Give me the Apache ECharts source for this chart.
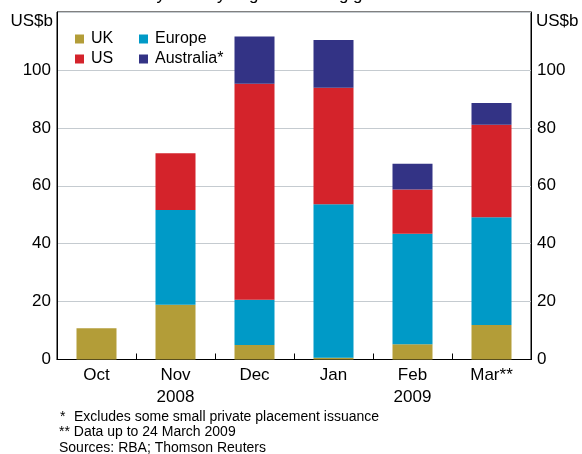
<!DOCTYPE html>
<html>
<head>
<meta charset="utf-8">
<script src="https://cdn.jsdelivr.net/npm/echarts@6/dist/echarts.min.js"></script>
<style>
  html, body { margin: 0; padding: 0; background: #fff; }
  #chart { width: 582px; height: 454px; }
</style>
</head>
<body>
<div id="chart"></div>
<script>
// Government-guaranteed bond issuance, US$ billion, by guaranteeing government
const categories = ['Oct', 'Nov\n2008', 'Dec', 'Jan', 'Feb\n2009', 'Mar**'];
const ukValues        = [10.8, 18.9, 5.0, 0.6, 5.3, 11.9];
const europeValues    = [0, 32.7, 15.6, 53.0, 38.1, 37.2];
const usValues        = [0, 19.6, 74.6, 40.2, 15.3, 32.0];
const australiaValues = [0, 0, 16.3, 16.5, 8.9, 7.5];
const yTicks = [0, 20, 40, 60, 80, 100, 120];

const FONT = 'Arial, "Liberation Sans", sans-serif';
const COLORS = { uk: '#b39d38', europe: '#009ac7', us: '#d4232b', australia: '#333385' };

const chart = echarts.init(document.getElementById('chart'), null, { renderer: 'canvas' });

function yAxis(position, showSplit, align) {
  return {
    type: 'value',
    position: position,
    min: yTicks[0],
    max: yTicks[yTicks.length - 1],
    interval: yTicks[1] - yTicks[0],
    axisLine: { show: true, lineStyle: { color: '#000', width: 1 } },
    axisTick: { show: false },
    splitLine: { show: showSplit, lineStyle: { color: '#c5cbd0', width: 1 } },
    axisLabel: {
      margin: 6,
      fontSize: 17,
      color: '#000',
      fontFamily: FONT,
      align: align,
      formatter: v => (v === yTicks[yTicks.length - 1] ? '' : String(v))
    }
  };
}

function stackSeries(name, data, color) {
  return {
    name: name,
    type: 'bar',
    stack: 'total',
    barWidth: 40,
    data: data,
    itemStyle: { color: color },
    emphasis: { disabled: true },
    animation: false
  };
}

const legendText = { fontSize: 16, color: '#000', fontFamily: FONT, lineHeight: 16, padding: [0, 0, 0, 2] };

chart.setOption({
  animation: false,
  grid: {
    left: 57, right: 51, top: 12, bottom: 94.5,
    show: true, borderColor: '#000', borderWidth: 1, backgroundColor: 'transparent'
  },
  legend: [
    {
      data: ['UK', 'US'], orient: 'vertical', left: 70, top: 26,
      itemWidth: 9, itemHeight: 9, itemGap: 4, icon: 'rect',
      textStyle: legendText, selectedMode: false
    },
    {
      data: ['Europe', 'Australia*'], orient: 'vertical', left: 134, top: 26,
      itemWidth: 9, itemHeight: 9, itemGap: 4, icon: 'rect',
      textStyle: legendText, selectedMode: false
    }
  ],
  xAxis: [
    {
      type: 'category',
      data: categories,
      position: 'bottom',
      axisLine: { show: true, lineStyle: { color: '#000', width: 1 } },
      axisTick: { show: true, inside: true, length: 6, lineStyle: { color: '#000' } },
      splitLine: { show: false },
      axisLabel: {
        interval: 0, margin: 5, fontSize: 17, lineHeight: 22,
        color: '#000', fontFamily: FONT
      }
    },
    {
      // year boundary marker between Dec 2008 and Jan 2009
      type: 'category',
      data: categories,
      position: 'bottom',
      axisLine: { show: false },
      axisTick: {
        show: true, inside: true, length: 13, lineStyle: { color: '#000' },
        interval: idx => idx === 3
      },
      axisLabel: { show: false },
      splitLine: { show: false }
    }
  ],
  yAxis: [yAxis('left', true, 'right'), yAxis('right', false, 'left')],
  series: [
    stackSeries('UK', ukValues, COLORS.uk),
    stackSeries('Europe', europeValues, COLORS.europe),
    stackSeries('US', usValues, COLORS.us),
    stackSeries('Australia*', australiaValues, COLORS.australia)
  ],
  graphic: [
    {
      type: 'text',
      style: { text: 'By country of guaranteeing government', x: 294, y: 4, textAlign: 'center', textVerticalAlign: 'bottom', fontSize: 17, fill: '#000', fontFamily: FONT }
    },
    {
      type: 'text',
      style: { text: 'US$b', x: 53, y: 21, textAlign: 'right', textVerticalAlign: 'middle', fontSize: 17, fill: '#000', fontFamily: FONT }
    },
    {
      type: 'text',
      style: { text: 'US$b', x: 536, y: 21, textAlign: 'left', textVerticalAlign: 'middle', fontSize: 17, fill: '#000', fontFamily: FONT }
    },
    {
      type: 'text',
      style: { text: '*', x: 60, y: 417, textVerticalAlign: 'middle', fontSize: 14, fill: '#000', fontFamily: FONT }
    },
    {
      type: 'text',
      style: { text: 'Excludes some small private placement issuance', x: 74, y: 417, textVerticalAlign: 'middle', fontSize: 14, fill: '#000', fontFamily: FONT }
    },
    {
      type: 'text',
      style: { text: '** Data up to 24 March 2009', x: 59, y: 432.5, textVerticalAlign: 'middle', fontSize: 14, fill: '#000', fontFamily: FONT }
    },
    {
      type: 'text',
      style: { text: 'Sources: RBA; Thomson Reuters', x: 59, y: 448, textVerticalAlign: 'middle', fontSize: 14, fill: '#000', fontFamily: FONT }
    }
  ]
});
</script>
</body>
</html>
